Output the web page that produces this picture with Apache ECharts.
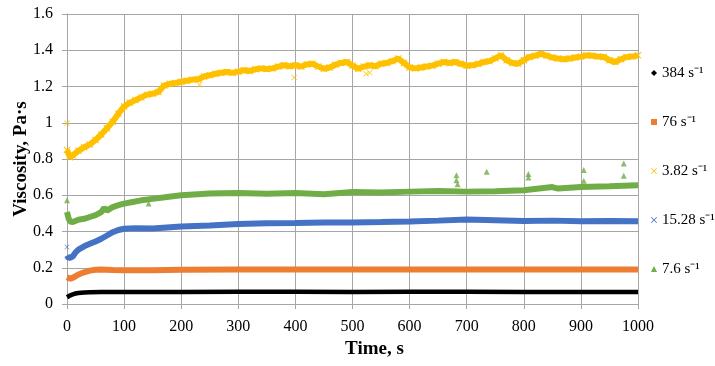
<!DOCTYPE html>
<html>
<head>
<meta charset="utf-8">
<script src="https://cdn.jsdelivr.net/npm/echarts@6/dist/echarts.min.js"></script>
<style>
html,body{margin:0;padding:0;background:#fff;}
#main{width:715px;height:366px;}
</style>
</head>
<body>
<div id="main"></div>
<script>
// 粘度随时间变化（五种剪切速率）
var xTicks = [0,100,200,300,400,500,600,700,800,900,1000];
var yTicks = [0,0.2,0.4,0.6,0.8,1,1.2,1.4,1.6];

// 384 s-1
var tBlack = [0,3,6,10,15,20,30,40,60,100,150,200,300,400,500,600,700,800,900,1000];
var vBlack = [0.037,0.042,0.048,0.053,0.058,0.061,0.064,0.065,0.066,0.066,0.066,0.066,0.067,0.067,0.066,0.067,0.067,0.066,0.066,0.066];

// 76 s-1
var tOrange = [0,3,6,10,15,20,30,40,50,60,80,100,150,200,300,400,500,600,700,800,900,1000];
var vOrange = [0.148,0.140,0.139,0.145,0.153,0.163,0.175,0.184,0.189,0.190,0.187,0.186,0.186,0.189,0.190,0.190,0.191,0.190,0.190,0.190,0.191,0.190];

// 3.82 s-1
var tYellow = [0,5,10,20,30,40,50,60,70,80,90,100,110,120,130,140,150,160,170,180,190,200,
	210,220,230,240,250,260,270,280,290,300,310,320,330,340,350,360,370,380,390,400,
	410,420,430,440,450,460,470,480,490,500,510,520,530,540,550,560,570,580,590,600,
	610,620,630,640,650,660,670,680,690,700,710,720,730,740,750,760,770,780,790,800,
	810,820,830,840,850,860,870,880,890,900,910,920,930,940,950,960,970,980,990,1000];
var vYellow = [0.85,0.81,0.82,0.845,0.865,0.88,0.905,0.935,0.97,1.005,1.05,1.09,1.11,1.125,1.14,1.155,1.16,1.17,1.205,1.215,1.22,1.226,
	1.232,1.238,1.24,1.255,1.262,1.27,1.276,1.28,1.275,1.282,1.29,1.286,1.295,1.30,1.296,1.30,1.31,1.317,1.312,1.317,
	1.31,1.322,1.326,1.31,1.298,1.305,1.32,1.33,1.335,1.315,1.298,1.31,1.317,1.312,1.326,1.33,1.34,1.354,1.33,1.305,
	1.30,1.305,1.31,1.315,1.326,1.335,1.33,1.335,1.325,1.315,1.317,1.325,1.335,1.34,1.355,1.372,1.345,1.33,1.326,1.345,
	1.363,1.37,1.38,1.37,1.36,1.354,1.35,1.354,1.36,1.365,1.372,1.37,1.365,1.363,1.345,1.335,1.35,1.363,1.365,1.372];
var yellowOut = [[0,0.997],[232,1.21],[398,1.25],[524,1.27],[530,1.276]];

// 15.28 s-1
var tBlue = [0,3,6,10,15,20,30,40,50,60,70,80,90,100,120,150,175,200,250,300,350,400,450,500,550,600,650,700,750,800,850,900,950,1000];
var vBlue = [0.268,0.252,0.250,0.262,0.285,0.300,0.318,0.332,0.345,0.360,0.378,0.396,0.408,0.415,0.418,0.416,0.422,0.428,0.433,0.442,0.445,0.447,0.450,0.450,0.452,0.455,0.460,0.466,0.462,0.458,0.460,0.457,0.458,0.456];
var blueOut = [[0,0.314]];

// 7.6 s-1
var tGreen = [0,3,6,10,20,30,40,50,60,65,70,80,90,100,115,130,150,175,200,250,300,350,400,450,500,550,600,650,700,750,800,850,860,900,950,1000];
var vGreen = [0.507,0.47,0.455,0.452,0.465,0.47,0.48,0.49,0.507,0.53,0.515,0.535,0.545,0.554,0.563,0.572,0.58,0.59,0.60,0.61,0.613,0.608,0.612,0.605,0.618,0.615,0.62,0.624,0.620,0.622,0.628,0.645,0.637,0.646,0.650,0.655];
var greenOut = [[0,0.572],[143,0.554],[682,0.71],[682,0.683],[684,0.661],[735,0.73],[808,0.717],[808,0.698],[905,0.74],[905,0.68],[975,0.775],[975,0.707]];

var names = ['384 s⁻¹','76 s⁻¹','3.82 s⁻¹','15.28 s⁻¹','7.6 s⁻¹'];
var colors = ['#000000','#ED7D31','#FFC000','#4472C4','#70AD47'];
var crossPath = 'path://M0,1L1,0L5,4L9,0L10,1L6,5L10,9L9,10L5,6L1,10L0,9L4,5Z';

function pairs(t,v){
	var arr = [];
	for(var i=0;i<t.length;i++){
		arr.push([t[i],v[i]]);
	}
	return arr;
}

var myChart = echarts.init(document.getElementById('main'));
var font = 'Liberation Serif';

function band(idx,data,width,sym,symSize){
	return {
		name:names[idx],
		type:'line',
		data:data,
		symbol:sym,
		symbolSize:symSize,
		showSymbol:symSize>0,
		showAllSymbol:true,
		lineStyle:{color:colors[idx],width:width},
		itemStyle:{color:colors[idx]},
		silent:true,
		z:2
	};
}
function dots(idx,data,sym,size){
	return {
		name:names[idx],
		type:'scatter',
		data:data,
		symbol:sym,
		symbolSize:size,
		itemStyle:{color:colors[idx]},
		silent:true,
		z:3
	};
}

var option = {
	animation:false,
	grid:{left:67,right:77,top:14,bottom:62,outerBoundsMode:'none',containLabel:false},
	legend:{
		orient:'vertical',
		left:646,
		top:60,
		itemWidth:6,
		itemHeight:6,
		itemGap:33,
		textStyle:{fontFamily:font,fontSize:15,color:'#000',lineHeight:16},
		data:[
			{name:names[0],icon:'diamond'},
			{name:names[1],icon:'rect'},
			{name:names[2],icon:crossPath},
			{name:names[3],icon:crossPath},
			{name:names[4],icon:'triangle'}
		]
	},
	xAxis:{
		type:'value',
		min:0,max:1000,interval:100,
		name:'Time, s',
		nameLocation:'middle',
		nameGap:36,
		nameMoveOverlap:false,
		nameTextStyle:{fontFamily:font,fontSize:19,fontWeight:'bold',color:'#000',padding:[0,0,0,44]},
		axisLine:{show:true,lineStyle:{color:'#A6A6A6'}},
		axisTick:{show:true,length:5,lineStyle:{color:'#A6A6A6'}},
		axisLabel:{fontFamily:font,fontSize:16,color:'#000',margin:15,
			formatter:function(v){ return xTicks.indexOf(v)>=0 ? String(v) : ''; }},
		splitLine:{show:true,lineStyle:{color:'#A6A6A6',width:1}}
	},
	yAxis:{
		type:'value',
		min:0,max:1.6,interval:0.2,
		name:'Viscosity, Pa·s',
		nameLocation:'middle',
		nameGap:36,
		nameMoveOverlap:false,
		nameTextStyle:{fontFamily:font,fontSize:19,fontWeight:'bold',color:'#000'},
		axisLine:{show:true,lineStyle:{color:'#A6A6A6'}},
		axisTick:{show:true,length:5,lineStyle:{color:'#A6A6A6'}},
		axisLabel:{fontFamily:font,fontSize:16,color:'#000',margin:14,
			formatter:function(v){
				for(var i=0;i<yTicks.length;i++){
					if(Math.abs(yTicks[i]-v)<1e-6) return String(yTicks[i]);
				}
				return '';
			}},
		splitLine:{show:true,lineStyle:{color:'#A6A6A6',width:1}}
	},
	series:[
		band(0,pairs(tBlack,vBlack),4.5,'none',0),
		band(1,pairs(tOrange,vOrange),6,'none',0),
		band(2,pairs(tYellow,vYellow),6,crossPath,7),
		dots(2,yellowOut,crossPath,6),
		band(3,pairs(tBlue,vBlue),6,'none',0),
		dots(3,blueOut,crossPath,5),
		band(4,pairs(tGreen,vGreen),6,'none',0),
		dots(4,greenOut,'triangle',6)
	]
};
myChart.setOption(option);
</script>
</body>
</html>
